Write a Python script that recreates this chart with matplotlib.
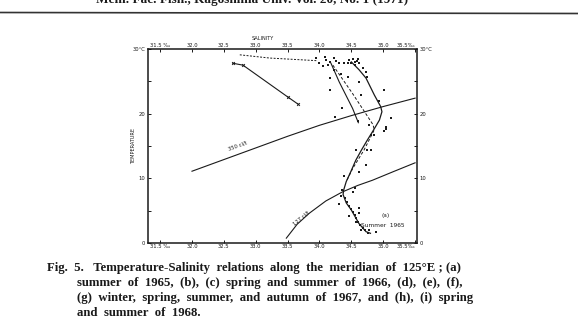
import numpy as np
import matplotlib
matplotlib.use('Agg')
from matplotlib import pyplot as plt
from matplotlib.lines import Line2D

# -- datos --
sal_ticks = [31.5, 32.0, 32.5, 33.0, 33.5, 34.0, 34.5, 35.0, 35.5]
sal_labels = ['31.5 ‰', '32.0', '32.5', '33.0', '33.5', '34.0', '34.5', '35.0', '35.5‰']
temp_ticks = [0, 10, 20, 30]
temp_labels = ['0', '10', '20', '30°C']

# curva principal (a) verano 1965
main_s = [34.50, 34.62, 34.73, 34.86, 34.96, 34.98, 34.94, 34.85, 34.75, 34.66, 34.57, 34.49, 34.42, 34.38, 34.37, 34.42, 34.50, 34.62, 34.73, 34.80]
main_t = [28.0, 26.8, 25.5, 22.9, 21.1, 20.3, 19.0, 17.5, 15.9, 14.4, 12.8, 11.0, 9.5, 8.2, 7.5, 6.2, 5.1, 3.0, 1.75, 1.5]
# curva solida izquierda
left_s = [34.18, 34.31, 34.52, 34.61]
left_t = [27.8, 24.9, 20.8, 18.6]
# curva segmentada
dash_s = [34.21, 34.52, 34.84, 34.86, 34.70, 34.52, 34.42]
dash_t = [27.5, 23.1, 18.3, 17.5, 14.4, 11.5, 9.5]
# linea segmentada superior
top_s = [32.75, 33.22, 33.95]
top_t = [29.1, 28.6, 28.2]
# linea solida con flecha
arr_s = [32.64, 32.80, 33.50, 33.66]
arr_t = [27.8, 27.5, 22.6, 21.5]
# isolineas de anomalia de volumen especifico
iso350_s = [32.0, 32.5, 33.0, 33.5, 34.0, 34.5, 35.0, 35.5]
iso350_t = [11.1, 12.9, 14.7, 16.5, 18.2, 19.7, 21.1, 22.4]
iso127_s = [33.48, 33.65, 33.84, 34.10, 34.36, 34.60, 34.83, 35.15, 35.50]
iso127_t = [0.75, 2.9, 4.6, 6.5, 7.9, 8.9, 9.7, 11.0, 12.4]
# puntos de observacion
pts_s = [33.95, 34.0, 34.05, 34.1, 34.17, 34.23, 34.31, 34.39, 34.23, 34.34, 34.08, 34.14, 34.26,
         34.47, 34.50, 34.53, 34.56, 34.59, 34.62, 34.55, 34.68, 34.73, 34.75, 34.45, 34.60,
         34.16, 34.16, 34.35, 34.44, 34.62, 34.65, 35.02, 35.12, 35.04, 34.78, 34.86, 34.81, 34.6,
         34.81, 35.04, 35.01, 34.57, 34.75, 34.73, 34.62, 34.39, 34.55, 34.36, 34.52, 34.31, 34.34,
         34.62, 34.62, 34.57, 34.47, 34.78, 34.89, 34.65, 34.25, 34.94,
         34.40, 34.43, 34.46, 34.49, 34.52, 34.55, 34.58, 34.61, 34.64, 34.68, 34.72, 34.76]
pts_t = [28.6, 27.8, 27.3, 28.3, 28.0, 28.6, 27.8, 27.8, 26.8, 26.2, 28.8, 27.6, 28.2,
         28.3, 27.9, 28.4, 28.0, 28.2, 27.8, 27.6, 27.0, 26.5, 25.7, 27.9, 28.5,
         25.5, 23.7, 20.8, 25.7, 24.9, 22.9, 23.7, 19.4, 17.7, 18.2, 16.7, 14.4, 18.8,
         16.7, 18.0, 17.3, 14.4, 14.4, 12.1, 11.0, 10.3, 8.5, 8.2, 7.9, 6.1, 7.2,
         5.4, 4.6, 3.3, 4.1, 2.0, 1.75, 2.0, 19.5, 22.0,
         7.0, 6.3, 5.7, 5.2, 4.8, 4.3, 3.8, 3.3, 2.8, 2.3, 2.0, 1.6]

ink = '#1a1a1a'
W, H = 578, 328
fig = plt.figure(figsize=(W / 100, H / 100), dpi=100)
fig.patch.set_facecolor('white')

# encabezado (cortado arriba en el escaneo) y linea
fig.text(252 / W, 1 + 0.5 / H, 'Mem. Fac. Fish., Kagoshima Univ. Vol. 20, No. 1 (1971)',
         ha='center', va='center', fontsize=9.5, family='Liberation Serif', weight='bold', color=ink)
fig.add_artist(Line2D([0, 1], [1 - 12.5 / H, 1 - 13.5 / H], transform=fig.transFigure, color='#333333', lw=1.2))

ax = fig.add_axes([148 / W, 1 - 243 / H, (417 - 148) / W, (243 - 49) / H])
ax.set_xlim(31.31, 35.53)
ax.set_ylim(0, 30)

ax.plot(main_s, main_t, color=ink, lw=0.9)
ax.plot(left_s, left_t, color=ink, lw=0.8)
ax.plot(dash_s, dash_t, color=ink, lw=0.7, ls=(0, (3, 2)))
ax.plot(top_s, top_t, color=ink, lw=0.7, ls=(0, (2, 1.5)))
ax.plot(arr_s, arr_t, color=ink, lw=0.8, marker='x', ms=2, mew=0.7)
ax.plot(iso350_s, iso350_t, color=ink, lw=0.8)
ax.plot(iso127_s, iso127_t, color=ink, lw=0.8)
ax.scatter(pts_s, pts_t, s=1.5, color=ink, marker='s', lw=0)

ax.text(32.72, 14.1, '350 cl/t', fontsize=3.8, rotation=20, ha='center', va='bottom', color=ink)
ax.text(33.72, 3.9, '127 cl/t', fontsize=3.8, rotation=40, ha='center', va='center', color=ink)
ax.text(35.04, 4.2, '(a)', fontsize=4.2, ha='center', va='center', color=ink)
ax.text(35.0, 2.7, 'Summer  1965', fontsize=4.2, ha='center', va='center', color=ink)

ax.set_xticks(sal_ticks)
ax.set_xticklabels(sal_labels)
ax.set_yticks(temp_ticks)
ax.set_yticklabels(temp_labels)
ax.set_yticks([5, 15, 25], minor=True)
ax.tick_params(which='both', direction='in', top=True, right=True, labeltop=True, labelright=True,
               length=2.5, width=0.7, labelsize=3.8, colors=ink)
ax.tick_params(axis='x', pad=1)
ax.tick_params(axis='y', pad=2)
for lab in ax.get_xticklabels():
    if lab.get_text() == '35.5‰':
        lab.set_ha('right')
for sp in ax.spines.values():
    sp.set_linewidth(1.1)
    sp.set_color(ink)

fig.text(263 / W, 1 - 38 / H, 'SALINITY', ha='center', va='center', fontsize=3.6, color=ink)
fig.text(134 / W, 1 - 146 / H, 'TEMPERATURE', ha='center', va='center', rotation=90, fontsize=3.6, color=ink)

# pie de figura
cap_kw = dict(fontsize=9.2, family='Liberation Serif', weight='bold', color=ink, va='center', ha='left')
fig.text(47 / W, 1 - 268 / H, 'Fig.  5.   Temperature-Salinity  relations  along  the  meridian  of  125°E ; (a)', **cap_kw)
fig.text(77 / W, 1 - 283 / H, 'summer  of  1965,  (b),  (c)  spring  and  summer  of  1966,  (d),  (e),  (f),', **cap_kw)
fig.text(77 / W, 1 - 298.5 / H, '(g)  winter,  spring,  summer,  and  autumn  of  1967,  and  (h),  (i)  spring', **cap_kw)
fig.text(77 / W, 1 - 313.5 / H, 'and  summer  of  1968.', **cap_kw)

fig.savefig('out.png', dpi=100, facecolor='white')
